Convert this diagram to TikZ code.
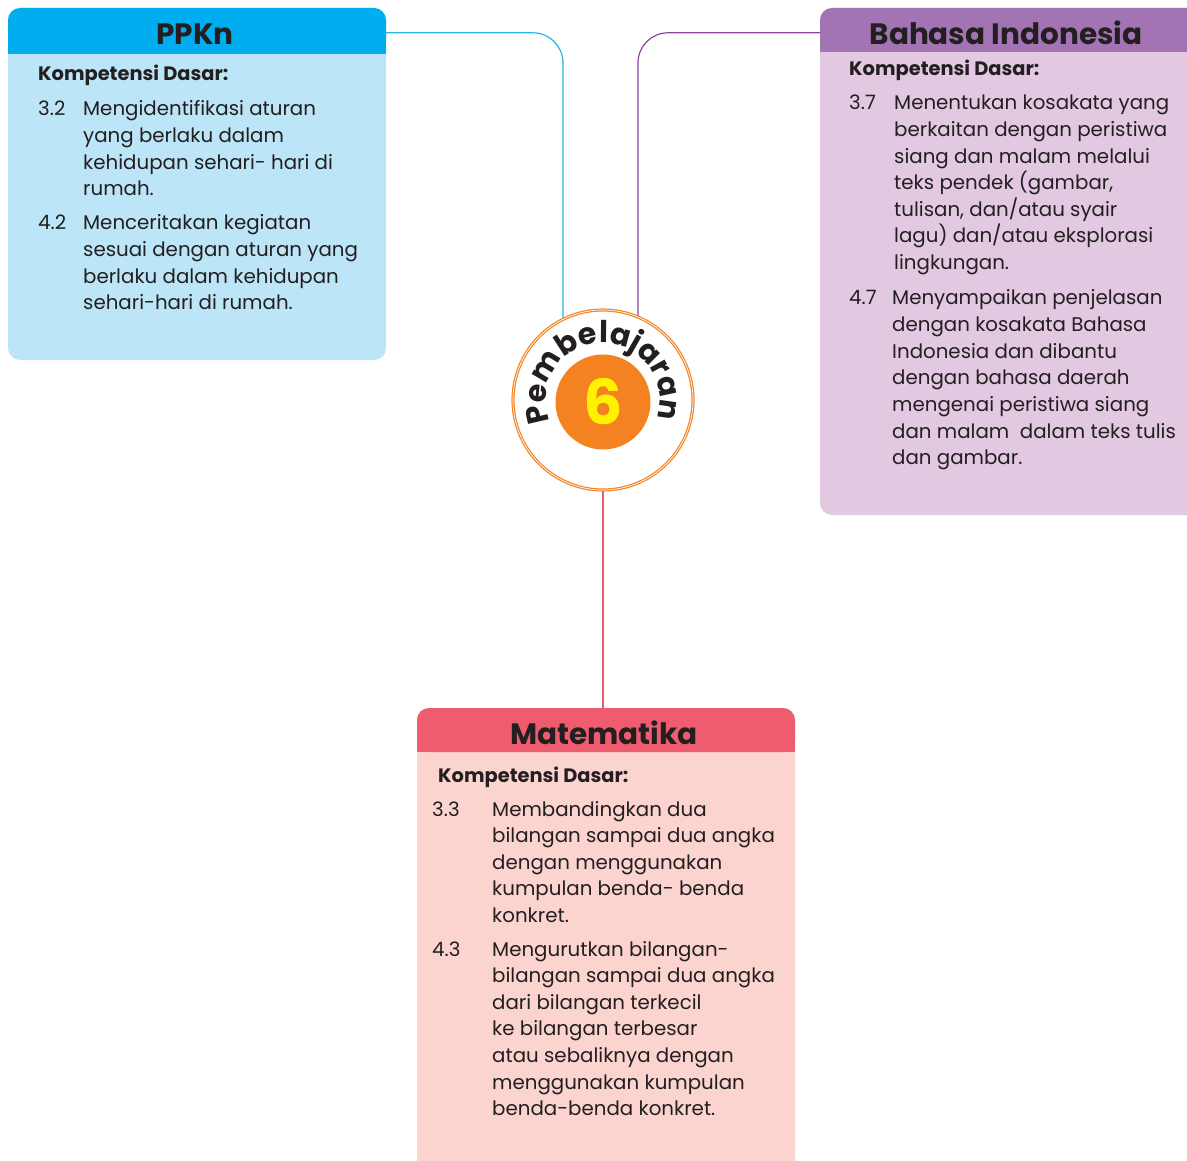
\documentclass[tikz,border=0pt]{standalone}
\usepackage{fontspec}
\setmainfont{Poppins}
\usetikzlibrary{decorations.text,backgrounds}
\definecolor{txt}{HTML}{231F20}
\definecolor{ppkhead}{HTML}{00AEEF}
\definecolor{ppkbody}{HTML}{BDE5F8}
\definecolor{cyanl}{HTML}{29B5E8}
\definecolor{purhead}{HTML}{A374B4}
\definecolor{purbody}{HTML}{E3C8E1}
\definecolor{purl}{HTML}{8E44A0}
\definecolor{mathead}{HTML}{EF5C70}
\definecolor{matbody}{HTML}{FBD4D0}
\definecolor{redl}{HTML}{E95B6E}
\definecolor{orng}{HTML}{F58220}
\definecolor{yel}{HTML}{FFF200}
\tikzset{
  bodytext/.style={font=\fontsize{19.8}{26}\selectfont, text=txt, anchor=base west, inner sep=0pt},
  kdtext/.style={bodytext, font=\fontsize{19.4}{26}\selectfont\bfseries},
  headtext/.style={font=\fontsize{29.5}{30}\selectfont\bfseries, text=txt, inner sep=0pt, anchor=base},
  boxnode/.style={rectangle, rounded corners=12pt, inner sep=0pt},
  conn/.style={line width=1.2pt, rounded corners=30pt},
}
\newcommand\itemlines[4]{%
  \foreach \t [count=\i from 0] in {#4}
    \node[bodytext] (#3\i) at (#1, {-(#2+26.6*\i)}) {\t};}
\begin{document}
\begin{tikzpicture}[x=1pt,y=1pt]
\clip (0,0) rectangle (1187,-1161);
% boxes
\node[boxnode, fill=ppkbody, minimum width=378pt, minimum height=352pt] (ppkbox) at (197,-184) {};
\fill[ppkhead, rounded corners=12pt] (8,-8) rectangle (386,-54);
\fill[ppkhead] (8,-30) rectangle (386,-54);
\node[headtext] (ppkn) at (195,-45) {PPKn};

\node[boxnode, fill=purbody, minimum width=390pt, minimum height=507pt] (bibox) at (1015,-261.5) {};
\fill[purhead, rounded corners=12pt] (820,-8) rectangle (1210,-52);
\fill[purhead] (820,-30) rectangle (1210,-52);
\node[headtext] (bind) at (1006,-45) {Bahasa Indonesia};

\node[boxnode, fill=matbody, minimum width=378pt, minimum height=480pt] (matbox) at (606,-948) {};
\fill[mathead, rounded corners=12pt] (417,-708) rectangle (795,-752);
\fill[mathead] (417,-730) rectangle (795,-752);
\node[headtext] (mat) at (604,-744) {Matematika};

% PPKn text
\node[kdtext] (kd1) at (38,-81) {Kompetensi Dasar:};
\node[bodytext] (n32) at (38,-116) {3.2};
\itemlines{83}{116}{a}{Mengidentifikasi aturan, yang berlaku dalam, kehidupan sehari- hari di, rumah.}
\node[bodytext] (n42) at (38,-230) {4.2};
\itemlines{83}{230}{b}{Menceritakan kegiatan, sesuai dengan aturan yang, berlaku dalam kehidupan, sehari-hari di rumah.}

% Bahasa text
\node[kdtext] (kd2) at (849,-76) {Kompetensi Dasar:};
\node[bodytext] (n37) at (849,-110) {3.7};
\itemlines{894}{110}{c}{Menentukan kosakata yang, berkaitan dengan peristiwa, siang dan malam melalui, {teks pendek (gambar,}, {tulisan, dan/atau syair}, lagu) dan/atau eksplorasi, lingkungan.}
\node[bodytext] (n47) at (849,-305) {4.7};
\itemlines{892}{305}{d}{Menyampaikan penjelasan, dengan kosakata Bahasa, Indonesia dan dibantu, dengan bahasa daerah, mengenai peristiwa siang, dan malam\ \ dalam teks tulis, dan gambar.}

% Matematika text
\node[kdtext] (kd3) at (438,-782) {Kompetensi Dasar:};
\node[bodytext] (n33) at (432,-816) {3.3};
\itemlines{492}{816}{e}{Membandingkan dua, bilangan sampai dua angka, dengan menggunakan, kumpulan benda- benda, konkret.}
\node[bodytext] (n43) at (432,-956) {4.3};
\itemlines{492}{956}{f}{Mengurutkan bilangan-, bilangan sampai dua angka, dari bilangan terkecil, ke bilangan terbesar, atau sebaliknya dengan, menggunakan kumpulan, benda-benda konkret.}

% centre
\node[circle, draw=orng, line width=1.2pt, double=white, double distance=0.7pt, fill=white, minimum size=180pt, inner sep=0pt] (circ) at (603,-400) {};
\node[circle, fill=orng, minimum size=95pt, inner sep=0pt, text=yel, font=\fontsize{62}{62}\selectfont\bfseries] (six) at (603,-402) {6};
\path[decorate, decoration={text along path, text align=center,
  text={|\fontsize{30}{30}\selectfont\bfseries\color{txt}|Pembelajaran}}]
  ([shift={(220:57)}]circ.center) arc[start angle=220, end angle=-36, radius=57];

% connectors
\begin{scope}[on background layer]
\fill[white] (0,0) rectangle (1187,-1161);
\draw[conn, cyanl] ([yshift=-25pt]ppkbox.north east) -| ([xshift=-40pt]circ.center);
\draw[conn, purl] ([yshift=-25pt]bibox.north west) -| ([xshift=35pt]circ.center);
\draw[conn, redl] (circ.south) -- (circ.south |- matbox.north);
\end{scope}
\end{tikzpicture}
\end{document}
